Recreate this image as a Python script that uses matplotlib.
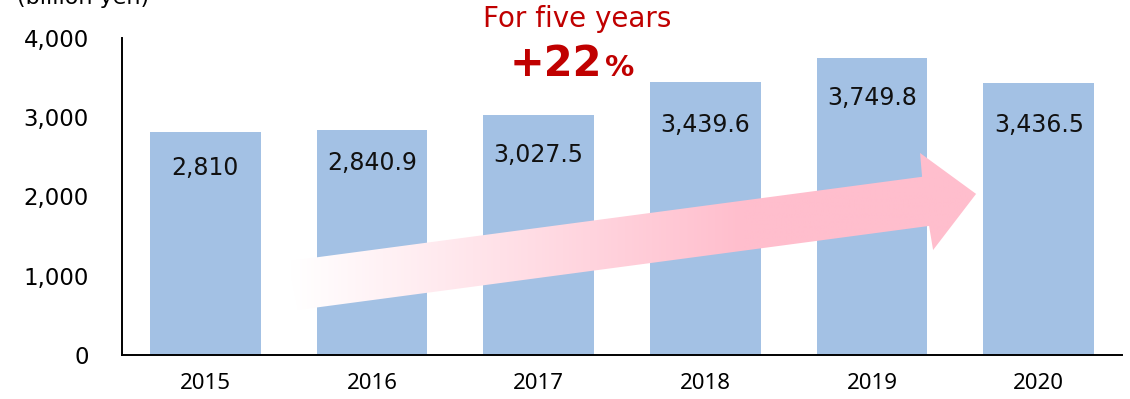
import matplotlib.pyplot as plt
import numpy as np
from matplotlib.patches import Polygon

plt.rcParams['font.family'] = 'DejaVu Sans'

# Market size by year (billion yen)
years = ['2015', '2016', '2017', '2018', '2019', '2020']
values = [2810, 2840.9, 3027.5, 3439.6, 3749.8, 3436.5]
value_labels = ['2,810', '2,840.9', '3,027.5', '3,439.6', '3,749.8', '3,436.5']
yticks = [0, 1000, 2000, 3000, 4000]

BAR_COLOR = '#A3C1E4'
RED = '#C00000'
PINK = np.array([255, 190, 205]) / 255.0

fig = plt.figure(figsize=(11.3, 3.99), dpi=100)
ax = fig.add_axes([0.108, 0.1103, 0.885, 0.7947])

x = np.arange(len(years))
ax.bar(x, values, width=0.665, color=BAR_COLOR, zorder=1)

ax.set_xlim(-0.5, 5.5)
ax.set_ylim(0, 4000)
ax.set_yticks(yticks)
ax.set_yticklabels([f'{t:,}' for t in yticks], fontsize=16.5)
ax.set_xticks(x)
ax.set_xticklabels(years, fontsize=16, family='Noto Sans')
ax.tick_params(axis='y', length=0, pad=24)
ax.tick_params(axis='x', length=0, pad=13)
for side in ('top', 'right'):
    ax.spines[side].set_visible(False)
for side in ('left', 'bottom'):
    ax.spines[side].set_linewidth(1.4)
    ax.spines[side].set_color('black')

# Growth arrow with a white-to-pink gradient fill (axes fraction coords)
arrow_pts = [(0.166, 0.296), (0.800, 0.562), (0.798, 0.637), (0.854, 0.508),
             (0.811, 0.331), (0.807, 0.407), (0.176, 0.142)]
arrow = Polygon(arrow_pts, closed=True, transform=ax.transAxes,
                facecolor='none', edgecolor='none')
ax.add_patch(arrow)
t = np.clip((np.linspace(0, 1, 400) - 0.17) / 0.45, 0, 1)
grad = np.ones((1, 400, 3)) * (1 - t[None, :, None]) + PINK * t[None, :, None]
img = ax.imshow(grad, extent=[0, 1, 0, 1], transform=ax.transAxes,
                aspect='auto', zorder=2, interpolation='bilinear')
img.set_clip_path(arrow)

# Value labels inside the bars, just under each top
label_drop = [36, 33, 40, 43, 40, 42]
for xi, v, lab, d in zip(x, values, value_labels, label_drop):
    ax.annotate(lab, xy=(xi, v), xytext=(0, -d * 0.72), textcoords='offset points',
                ha='center', va='center', fontsize=17, color='#111111', zorder=3)

# Headline
fig.text(0.511, 0.953, 'For five years', color=RED, fontsize=20,
         ha='center', va='center')
fig.text(0.533, 0.84, '+22', color=RED, fontsize=30, fontweight='bold',
         ha='right', va='center')
fig.text(0.535, 0.83, '%', color=RED, fontsize=21, fontweight='bold',
         ha='left', va='center')

fig.text(0.015, 0.99, '(billion yen)', fontsize=16, ha='left', va='baseline')

fig.savefig('out.png', dpi=100)
